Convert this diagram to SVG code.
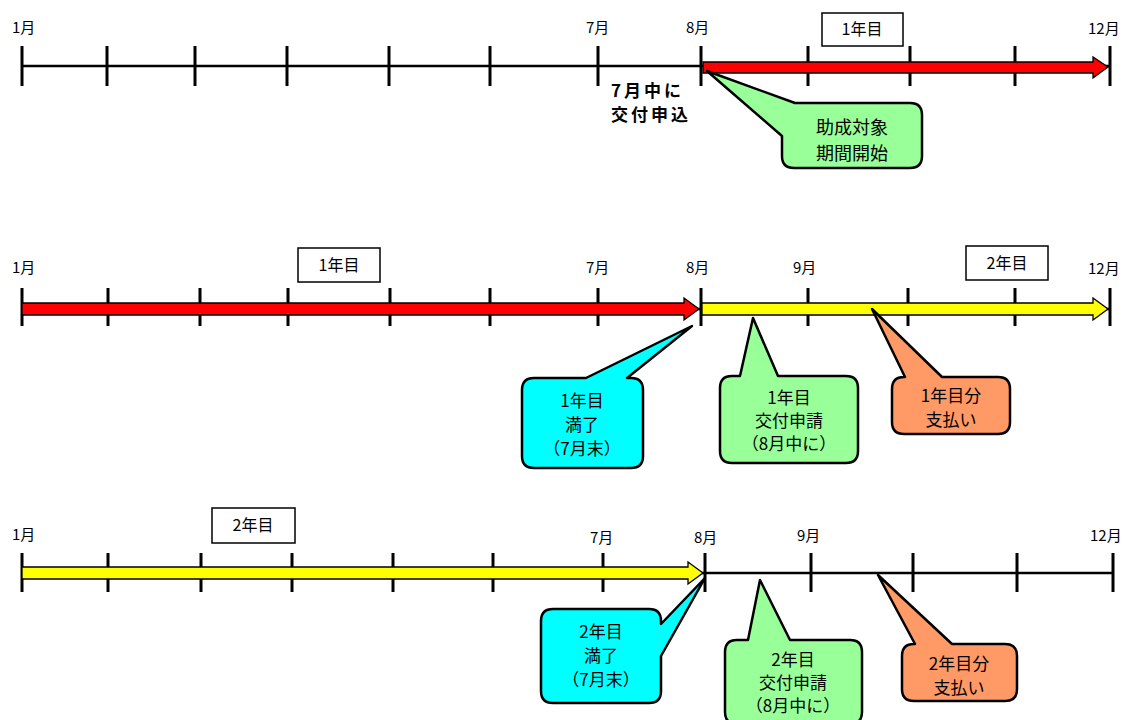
<svg xmlns="http://www.w3.org/2000/svg" width="1130" height="720" viewBox="0 0 1130 720">
<style>
text{font-family:"Noto Sans CJK JP","Noto Sans",sans-serif;font-size:15px;fill:#000}
.m{text-anchor:middle;font-size:16px}
.c{font-size:17px;text-anchor:middle}
.cl{font-size:18px;text-anchor:middle}
.b{font-weight:bold;font-size:17px;letter-spacing:3px}
.axis{stroke:#000;stroke-width:2.5;fill:none}
.tick{stroke:#000;stroke-width:3}
.box{fill:#fff;stroke:#000;stroke-width:1.5}
.arr{stroke:#000;stroke-width:1.3;stroke-linejoin:miter}
.red{fill:#ff0000}
.yel{fill:#ffff00}
.call{stroke:#000;stroke-width:2.5;stroke-linejoin:round}
.g{fill:#99ff99}
.cy{fill:#00ffff}
.o{fill:#ff9966}
</style>
<rect width="1130" height="720" fill="#fff"/>

<g id="row1">
  <line class="axis" x1="22" y1="66" x2="1110" y2="66"/>
  <g class="tick">
    <line x1="22" y1="46" x2="22" y2="86"/><line x1="107" y1="46" x2="107" y2="86"/>
    <line x1="195" y1="46" x2="195" y2="86"/><line x1="287" y1="46" x2="287" y2="86"/>
    <line x1="389" y1="46" x2="389" y2="86"/><line x1="490" y1="46" x2="490" y2="86"/>
    <line x1="598" y1="46" x2="598" y2="86"/><line x1="701" y1="46" x2="701" y2="86"/>
    <line x1="808" y1="46" x2="808" y2="86"/><line x1="910" y1="46" x2="910" y2="86"/>
    <line x1="1015" y1="46" x2="1015" y2="86"/><line x1="1110" y1="46" x2="1110" y2="86"/>
  </g>
  <path class="arr red" d="M703,62 L1093,62 L1093,57 L1108,67 L1093,78 L1093,73 L703,73 Z"/>
  <text x="12" y="33">1月</text>
  <text x="586" y="33">7月</text>
  <text x="686" y="33">8月</text>
  <text x="1088" y="34">12月</text>
  <rect class="box" x="822" y="13" width="81" height="33"/>
  <text class="m" x="862" y="35">1年目</text>
  <text class="b" x="611" y="97">7月中に</text>
  <text class="b" x="611" y="121">交付申込</text>
</g>

<g id="callout-start">
  <path class="call g" d="M795,103 L910,103 Q922,103 922,115 L922,156 Q922,168 910,168 L794,168 Q782,168 782,156 L782,136 L707,71 Z"/>
  <text class="cl" x="852" y="134">助成対象</text>
  <text class="cl" x="852" y="160">期間開始</text>
</g>

<g id="row2">
  <line class="axis" x1="22" y1="309" x2="1110" y2="309"/>
  <g class="tick">
    <line x1="22" y1="288" x2="22" y2="326"/><line x1="108" y1="288" x2="108" y2="326"/>
    <line x1="200" y1="288" x2="200" y2="326"/><line x1="288" y1="288" x2="288" y2="326"/>
    <line x1="390" y1="288" x2="390" y2="326"/><line x1="490" y1="288" x2="490" y2="326"/>
    <line x1="598" y1="288" x2="598" y2="326"/><line x1="701" y1="288" x2="701" y2="326"/>
    <line x1="808" y1="288" x2="808" y2="326"/><line x1="908" y1="288" x2="908" y2="326"/>
    <line x1="1015" y1="288" x2="1015" y2="326"/><line x1="1110" y1="288" x2="1110" y2="326"/>
  </g>
  <path class="arr red" d="M22,303 L684,303 L684,298 L699,309 L684,320 L684,315 L22,315 Z"/>
  <path class="arr yel" d="M702,303 L1093,303 L1093,298 L1108,309 L1093,320 L1093,315 L702,315 Z"/>
  <text x="12" y="273">1月</text>
  <text x="586" y="273">7月</text>
  <text x="686" y="273">8月</text>
  <text x="793" y="273">9月</text>
  <text x="1088" y="274">12月</text>
  <rect class="box" x="298" y="248" width="82" height="34"/>
  <text class="m" x="339" y="271">1年目</text>
  <rect class="box" x="966" y="246" width="82" height="34"/>
  <text class="m" x="1007" y="269">2年目</text>
</g>

<g id="callout-1-end">
  <path class="call cy" d="M586,378 L692,326 L627,378 L631,378 Q643,378 643,390 L643,456 Q643,468 631,468 L534,468 Q522,468 522,456 L522,390 Q522,378 534,378 Z"/>
  <text class="c" x="582" y="407">1年目</text>
  <text class="c" x="582" y="431">満了</text>
  <text class="c" x="582" y="455">（7月末）</text>
</g>

<g id="callout-1-apply">
  <path class="call g" d="M740,376 L753,318 L778,376 L846,376 Q858,376 858,388 L858,451 Q858,463 846,463 L732,463 Q720,463 720,451 L720,388 Q720,376 732,376 Z"/>
  <text class="c" x="789" y="404">1年目</text>
  <text class="c" x="789" y="427">交付申請</text>
  <text class="c" x="789" y="450">（8月中に）</text>
</g>

<g id="callout-1-pay">
  <path class="call o" d="M905,377 L872,309 L942,377 L998,377 Q1010,377 1010,389 L1010,422 Q1010,434 998,434 L904,434 Q892,434 892,422 L892,389 Q892,377 904,377 Z"/>
  <text class="c" x="951" y="402">1年目分</text>
  <text class="c" x="951" y="426">支払い</text>
</g>

<g id="row3">
  <line class="axis" x1="22" y1="573" x2="1113" y2="573"/>
  <g class="tick">
    <line x1="22" y1="553" x2="22" y2="592"/><line x1="108" y1="553" x2="108" y2="592"/>
    <line x1="201" y1="553" x2="201" y2="592"/><line x1="292" y1="553" x2="292" y2="592"/>
    <line x1="393" y1="553" x2="393" y2="592"/><line x1="493" y1="553" x2="493" y2="592"/>
    <line x1="603" y1="553" x2="603" y2="592"/><line x1="705" y1="553" x2="705" y2="592"/>
    <line x1="811" y1="553" x2="811" y2="592"/><line x1="913" y1="553" x2="913" y2="592"/>
    <line x1="1017" y1="553" x2="1017" y2="592"/><line x1="1113" y1="553" x2="1113" y2="592"/>
  </g>
  <path class="arr yel" d="M22,567 L688,567 L688,562 L703,573 L688,584 L688,579 L22,579 Z"/>
  <text x="12" y="540">1月</text>
  <text x="590" y="543">7月</text>
  <text x="694" y="543">8月</text>
  <text x="797" y="541">9月</text>
  <text x="1090" y="541">12月</text>
  <rect class="box" x="212" y="508" width="83" height="35"/>
  <text class="m" x="253" y="531">2年目</text>
</g>

<g id="callout-2-end">
  <path class="call cy" d="M649,609 Q661,609 661,621 L661,624 L705,578 L661,656 L661,691 Q661,703 649,703 L553,703 Q541,703 541,691 L541,621 Q541,609 553,609 Z"/>
  <text class="c" x="601" y="638">2年目</text>
  <text class="c" x="601" y="662">満了</text>
  <text class="c" x="601" y="686">（7月末）</text>
</g>

<g id="callout-2-apply">
  <path class="call g" d="M748,640 L760,580 L790,640 L850,640 Q862,640 862,652 L862,712 Q862,724 850,724 L737,724 Q725,724 725,712 L725,652 Q725,640 737,640 Z"/>
  <text class="c" x="793" y="666">2年目</text>
  <text class="c" x="793" y="689">交付申請</text>
  <text class="c" x="793" y="712">（8月中に）</text>
</g>

<g id="callout-2-pay">
  <path class="call o" d="M915,644 L878,575 L952,644 L1005,644 Q1017,644 1017,656 L1017,689 Q1017,701 1005,701 L914,701 Q902,701 902,689 L902,656 Q902,644 914,644 Z"/>
  <text class="c" x="959" y="670">2年目分</text>
  <text class="c" x="959" y="694">支払い</text>
</g>
</svg>
